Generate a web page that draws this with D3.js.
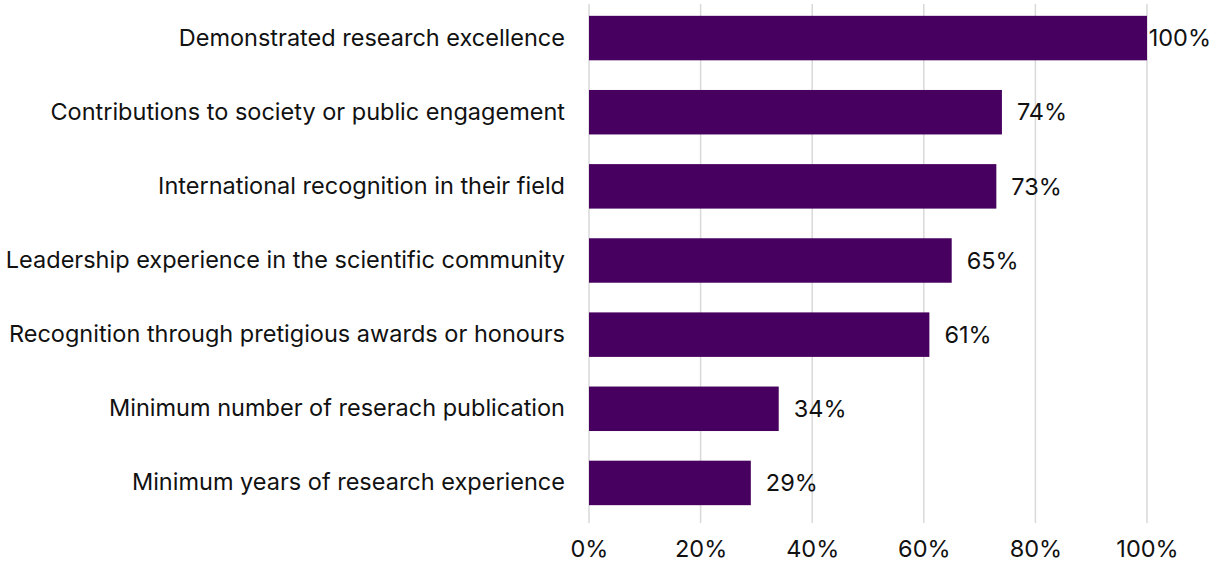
<!DOCTYPE html>
<html>
<head>
<meta charset="utf-8">
<script src="https://cdn.jsdelivr.net/npm/d3@7"></script>
<style>
  html, body { margin: 0; padding: 0; background: #fff; }
  svg { display: block; }
  text { font-family: Inter, "Noto Sans", sans-serif; fill: #111; }
</style>
</head>
<body>
<svg id="chart" width="1210" height="563"></svg>
<script>
// Criteria considered, from most to least cited
const categories = [
  "Demonstrated research excellence",
  "Contributions to society or public engagement",
  "International recognition in their field",
  "Leadership experience in the scientific community",
  "Recognition through pretigious awards or honours",
  "Minimum number of reserach publication",
  "Minimum years of research experience"
];
const values = [100, 74, 73, 65, 61, 34, 29];
const tickValues = [0, 20, 40, 60, 80, 100];

const W = 1210, H = 563;
const FS = 23.5;
const margin = { left: 589, right: 63, top: 1, bottom: 43 };
const svg = d3.select("#chart");

const x = d3.scaleLinear().domain([0, 100]).range([margin.left, W - margin.right]);
const y = d3.scaleBand().domain(categories).range([margin.top, H - margin.bottom]).paddingInner(0.4).paddingOuter(0.2);

// vertical gridlines
svg.append("g")
  .selectAll("line")
  .data(tickValues)
  .join("line")
  .attr("x1", d => x(d)).attr("x2", d => x(d))
  .attr("y1", 4).attr("y2", 523)
  .attr("stroke", "#d9d9d9").attr("stroke-width", 1.5);

// x axis tick labels
const xAxis = d3.axisBottom(x).tickValues(tickValues).tickFormat(d => d + "%").tickSize(0).tickPadding(0);
const gx = svg.append("g").attr("transform", `translate(0, 540)`).call(xAxis);
gx.select(".domain").remove();
gx.selectAll("text").attr("font-size", FS).attr("font-family", "Inter, sans-serif").attr("fill", "#111");

// category labels
const yAxis = d3.axisLeft(y).tickSize(0).tickPadding(24);
const gy = svg.append("g").attr("transform", `translate(${margin.left}, 0)`).call(yAxis);
gy.select(".domain").remove();
gy.selectAll("text").attr("font-size", FS).attr("font-family", "Inter, sans-serif").attr("fill", "#111");

// bars
svg.append("g")
  .selectAll("rect")
  .data(values)
  .join("rect")
  .attr("x", x(0))
  .attr("y", (d, i) => y(categories[i]))
  .attr("width", d => x(d) - x(0))
  .attr("height", y.bandwidth())
  .attr("fill", "#47005f");

// value labels, kept inside the canvas
const labels = svg.append("g")
  .selectAll("text")
  .data(values)
  .join("text")
  .attr("y", (d, i) => y(categories[i]) + y.bandwidth() / 2)
  .attr("dy", "0.35em")
  .attr("font-size", FS)
  .text(d => d + "%");
labels.each(function(d) {
  const w = this.getComputedTextLength();
  d3.select(this).attr("x", Math.min(x(d) + 15, W - w + 1));
});
</script>
</body>
</html>
